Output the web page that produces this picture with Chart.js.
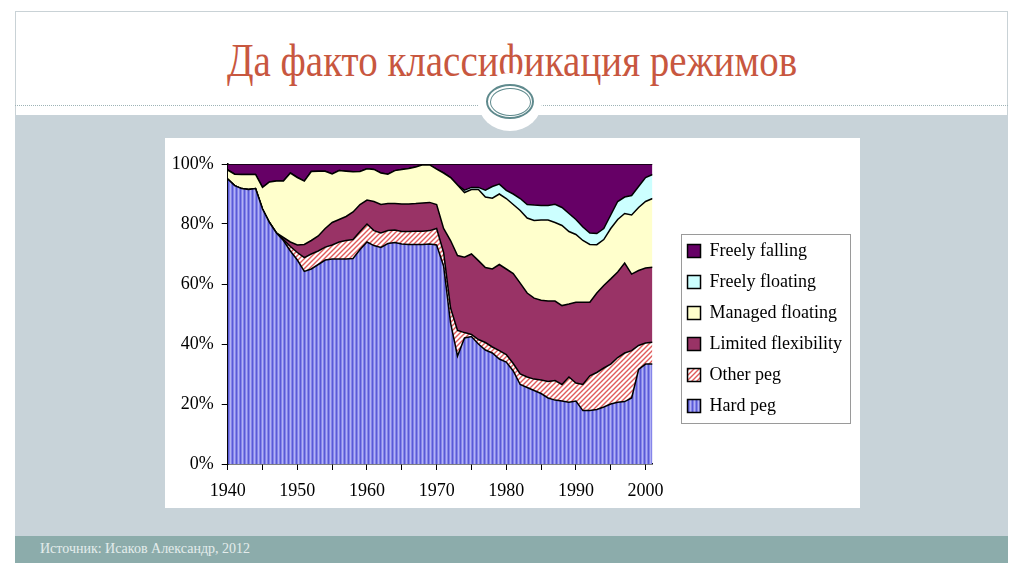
<!DOCTYPE html>
<html>
<head>
<meta charset="utf-8">
<script src="https://cdn.jsdelivr.net/npm/chart.js@4.4.0/dist/chart.umd.min.js"></script>
<style>
  html, body { margin: 0; padding: 0; }
  body { width: 1024px; height: 574px; position: relative; overflow: hidden; background: #fff; font-family: "Liberation Serif", serif; }
  .frame { position: absolute; left: 15px; top: 11px; width: 993px; height: 552px; border: 1px solid #c9d2d6; box-sizing: border-box; }
  .band { position: absolute; left: 15px; top: 115px; width: 993px; height: 421px; background: #c8d3d9; }
  .footer { position: absolute; left: 15px; top: 536px; width: 993px; height: 27px; background: #8cacab; }
  .footer span { position: absolute; left: 25px; top: 5px; font-size: 14px; color: #e4ecec; }
  .dots { position: absolute; left: 15px; top: 105px; width: 993px; border-top: 1px dotted #9db3b6; }
  .knob { position: absolute; left: 478px; top: 73px; width: 64px; height: 58px; border-radius: 50%; background: #fff; }
  .ring1 { position: absolute; left: 486px; top: 84px; width: 48px; height: 35px; border-radius: 50%; border: 2px solid #5f8a8d; box-sizing: border-box; }
  .ring2 { position: absolute; left: 489.5px; top: 87.5px; width: 41px; height: 28px; border-radius: 50%; border: 1.5px solid #5f8a8d; box-sizing: border-box; }
  h1 { position: absolute; left: 0; top: 38px; width: 1024px; margin: 0; text-align: center; font-weight: normal; font-size: 39px; line-height: 44px; color: #c8573f; transform: scaleY(1.2); }
  #box { position: absolute; left: 165px; top: 138px; width: 695px; height: 370px; background: #fff; }
  #c { position: absolute; left: 100px; top: 138px; }
</style>
</head>
<body>
<div class="frame"></div>
<h1>Да факто классификация режимов</h1>
<div class="dots"></div>
<div class="band"></div>
<div class="knob"></div>
<div class="ring1"></div>
<div class="ring2"></div>
<div class="footer"><span>Источник: Исаков Александр, 2012</span></div>
<div id="box"></div>
<canvas id="c" width="752" height="370"></canvas>
<script>
const years = [1940, 1941, 1942, 1943, 1944, 1945, 1946, 1947, 1948, 1949,
  1950, 1951, 1952, 1953, 1954, 1955, 1956, 1957, 1958, 1959,
  1960, 1961, 1962, 1963, 1964, 1965, 1966, 1967, 1968, 1969,
  1970, 1971, 1972, 1973, 1974, 1975, 1976, 1977, 1978, 1979,
  1980, 1981, 1982, 1983, 1984, 1985, 1986, 1987, 1988, 1989,
  1990, 1991, 1992, 1993, 1994, 1995, 1996, 1997, 1998, 1999,
  2000, 2001];

// shares of countries, % (stacked bottom to top)
const hardPeg = [95, 92.8, 91.8, 91.5, 91.8, 85, 80.5, 77, 74.5, 71,
  68, 64.2, 65, 66.5, 68, 68.3, 68.3, 68.3, 68.5, 71.5,
  74, 72.8, 72.2, 73.5, 73.8, 73.3, 73.2, 73.2, 73.2, 73.3,
  73, 66, 47, 36, 42, 42.5, 40, 38, 37, 35,
  34, 31, 26.5, 25.5, 24.5, 23.5, 22, 21.3, 21, 20.6,
  21, 17.8, 17.8, 18.2, 19, 20, 20.6, 20.8, 22, 31.5,
  33.3, 33.3];
const otherPeg = [0, 0, 0, 0, 0, 0, 0, 0, 0.3, 1.5,
  2.5, 4.6, 5, 4.5, 4.3, 4.7, 5.7, 6.2, 6.3, 6,
  6, 5, 4.8, 4.3, 4.2, 4.2, 4.3, 4.4, 4.4, 4.5,
  5.5, 4.5, 5, 8.5, 1.8, 0.7, 1.5, 2.5, 2, 2.8,
  2.5, 2.5, 3.5, 3.5, 3.8, 4.5, 5.5, 6.5, 5.5, 8.4,
  6, 8.7, 11.6, 12.3, 13, 13.3, 14.9, 16.2, 15.8, 8,
  7, 7.3];
const limitedFlex = [0, 0, 0, 0, 0, 0, 0, 0, 0.7, 1.5,
  2.5, 4.4, 4.5, 5, 6.2, 7.5, 7.5, 8, 9.2, 9,
  8, 9.7, 9.5, 9, 8.8, 9.2, 9.2, 9.2, 9.4, 9.4,
  8, 8, 22.5, 25, 25.1, 26.8, 26.3, 25, 26, 28.7,
  28.5, 30, 30.3, 28, 27, 26.6, 26.8, 26.5, 26.3, 24.3,
  26.9, 27.4, 24.5, 26.5, 27.5, 28.4, 28.5, 30, 25.5, 25,
  25, 25];
const managedFloat = [3, 3.8, 4.7, 5, 4.7, 7.2, 13.5, 17.3, 18.8, 23,
  22.5, 21.1, 23, 21.6, 19.1, 16.2, 16.3, 15.1, 13.4, 11,
  10.4, 10.7, 10.5, 9.8, 11, 11.5, 11.8, 12.2, 12.7, 12.5,
  11.8, 18.5, 21, 23.5, 21.6, 21.5, 23.7, 23.5, 23.6, 23.5,
  23.5, 23, 24.2, 25, 25.9, 26.7, 27, 26.2, 26.7, 24.2,
  22.6, 20.6, 19.3, 16.1, 15.3, 16.8, 17.5, 16.5, 19.7, 21,
  22.2, 22.9];
const freelyFloat = [0, 0, 0, 0, 0, 0, 0, 0, 0, 0,
  0, 0, 0, 0, 0, 0, 0, 0, 0, 0,
  0, 0, 0, 0, 0, 0, 0, 0, 0, 0,
  0, 0, 0, 0, 0.8, 0.7, 0.7, 2.3, 3.9, 3.3,
  2.7, 3.5, 4, 4.5, 5.1, 4.9, 4.9, 6.1, 6, 6,
  5, 4.5, 3.8, 3.7, 3.7, 4.5, 6, 5.5, 6.5, 7,
  8, 8];
const freelyFall = [2, 3.4, 3.5, 3.5, 3.5, 7.8, 6, 5.7, 5.7, 3,
  4.5, 5.7, 2.5, 2.4, 2.4, 3.3, 2.2, 2.4, 2.6, 2.5,
  1.6, 1.8, 3, 3.4, 2.2, 1.8, 1.5, 1, 0.3, 0.3,
  1.7, 3, 4.5, 7, 8.7, 7.8, 7.8, 8.7, 7.5, 6.7,
  8.8, 10, 11.5, 13.5, 13.7, 13.8, 13.8, 13.4, 14.5, 16.5,
  18.5, 21, 23, 23.2, 21.5, 17, 12.5, 11, 10.5, 7.5,
  4.5, 3.5];

const xTickLabels = ['1940', '1950', '1960', '1970', '1980', '1990', '2000'];
const yTickLabels = ['0%', '20%', '40%', '60%', '80%', '100%'];

function stripes() {
  const c = document.createElement('canvas');
  c.width = 4; c.height = 4;
  const g = c.getContext('2d');
  ['#5a5ad6', '#8585ea', '#b2b2f4', '#8585ea'].forEach((col, i) => {
    g.fillStyle = col;
    g.fillRect(i, 0, 1, 4);
  });
  return g.createPattern(c, 'repeat');
}

function hatch() {
  const c = document.createElement('canvas');
  c.width = 5; c.height = 5;
  const g = c.getContext('2d');
  g.fillStyle = '#fff';
  g.fillRect(0, 0, 5, 5);
  g.strokeStyle = '#e05a5a';
  g.lineWidth = 1.4;
  g.beginPath();
  g.moveTo(-1, 6); g.lineTo(6, -1);
  g.moveTo(-1, 1); g.lineTo(1, -1);
  g.moveTo(4, 6); g.lineTo(6, 4);
  g.stroke();
  return g.createPattern(c, 'repeat');
}

const series = [
  { label: 'Hard peg', values: hardPeg, fill: stripes() },
  { label: 'Other peg', values: otherPeg, fill: hatch() },
  { label: 'Limited flexibility', values: limitedFlex, fill: '#993366' },
  { label: 'Managed floating', values: managedFloat, fill: '#ffffcc' },
  { label: 'Freely floating', values: freelyFloat, fill: '#ccffff' },
  { label: 'Freely falling', values: freelyFall, fill: '#660066' }
];

// grey frame round the legend
const legendFrame = {
  id: 'legendFrame',
  afterDraw(chart) {
    const hb = chart.legend && chart.legend.legendHitBoxes;
    if (!hb || !hb.length) return;
    const l = Math.min(...hb.map(h => h.left)) - 7;
    const t = Math.min(...hb.map(h => h.top)) - 8;
    const r = Math.max(...hb.map(h => h.left + h.width)) + 8;
    const b = Math.max(...hb.map(h => h.top + h.height)) + 8;
    const ctx = chart.ctx;
    ctx.save();
    ctx.strokeStyle = '#9a9a9a';
    ctx.lineWidth = 1;
    ctx.strokeRect(Math.round(l) + 0.5, Math.round(t) + 0.5, Math.round(r - l), Math.round(b - t));
    ctx.restore();
  }
};

Chart.defaults.font.family = "'Liberation Serif', serif";
Chart.defaults.color = '#000';

new Chart(document.getElementById('c'), {
  type: 'line',
  data: {
    datasets: series.map((s, i) => ({
      label: s.label,
      data: years.map((y, j) => ({ x: y, y: s.values[j] })),
      backgroundColor: s.fill,
      borderColor: '#000',
      borderWidth: 1.5,
      fill: i === 0 ? 'origin' : '-1',
      pointRadius: 0,
      tension: 0
    }))
  },
  options: {
    responsive: false,
    animation: false,
    layout: { padding: { top: 26, right: 0, left: 0, bottom: 0 } },
    scales: {
      x: {
        type: 'linear',
        min: 1940,
        max: 2001,
        grid: { drawOnChartArea: false, tickLength: 6, color: '#000' },
        border: { color: '#000', width: 1.5 },
        ticks: {
          stepSize: 5,
          includeBounds: false,
          autoSkip: false,
          maxRotation: 0,
          padding: 10,
          font: { size: 18 },
          callback: v => (xTickLabels.includes(String(v)) ? String(v) : '')
        },
        afterFit: s => { s.height = 44; }
      },
      y: {
        stacked: true,
        min: 0,
        max: 100,
        grid: { drawOnChartArea: false, tickLength: 6, color: '#000' },
        border: { color: '#000', width: 1.5 },
        ticks: {
          stepSize: 20,
          padding: 8,
          font: { size: 18 },
          callback: v => yTickLabels[v / 20]
        },
        afterFit: s => { s.width = 127.7; }
      },
      gap: {
        type: 'linear',
        position: 'right',
        display: false,
        afterFit: s => { s.width = 22; }
      }
    },
    plugins: {
      tooltip: { enabled: false },
      legend: {
        position: 'right',
        reverse: true,
        fullSize: false,
        title: { display: true, text: ' ', padding: 6.7, font: { size: 13 } },
        labels: {
          boxWidth: 13,
          boxHeight: 13,
          padding: 13,
          font: { size: 18 }
        }
      }
    }
  },
  plugins: [legendFrame]
});
</script>
</body>
</html>
